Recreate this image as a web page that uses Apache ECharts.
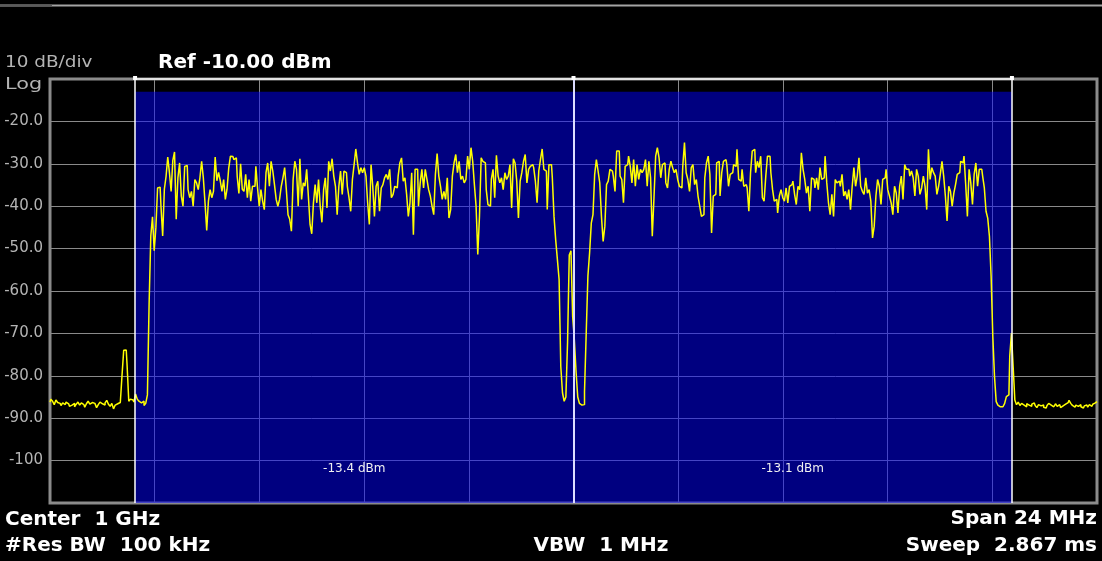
<!DOCTYPE html>
<html>
<head>
<meta charset="utf-8">
<script src="https://cdn.jsdelivr.net/npm/echarts@6/dist/echarts.min.js"></script>
<style>
  html, body { margin: 0; padding: 0; background: #000; }
  #chart { width: 1102px; height: 561px; }
</style>
</head>
<body>
<div id="chart"></div>
<script>
// trace levels in dBm, evenly spaced over the 24 MHz span (left to right)
const floorLeft = [
  -86.2, -85.5, -86.0, -86.8, -85.7, -86.3, -86.5, -87.0, -86.4, -86.8,
  -86.2, -86.6, -87.2, -86.9, -86.5, -87.3, -86.7, -86.2, -86.9, -86.4,
  -86.8, -87.4, -86.6, -86.0, -86.7, -86.3, -86.5, -86.9, -87.5, -86.8,
  -86.2, -86.6, -86.9, -86.4, -85.8, -86.7, -87.2, -86.5, -87.8, -86.9,
  -86.6, -86.3, -86.5, -80.0, -74.0, -73.9, -77.5, -86.0, -85.5, -85.7,
  -86.2, -84.3, -85.5, -86.0, -86.4, -86.0, -87.0
];
const edgeLeft = [-86.5, -84.5, -63.0, -47.0, -42.5, -50.5, -45.0, -35.7, -35.5, -40.0, -47.0];
const channelA = [
  -36.0, -33.0, -28.4, -32.1, -36.5, -29.2, -27.2, -43.1, -33.3, -29.8,
  -37.6, -40.0, -30.6, -30.4, -36.1, -38.0, -36.5, -40.0, -33.7, -34.5,
  -36.1, -33.3, -29.4, -33.3, -39.2, -45.7, -38.8, -36.1, -38.0, -36.5,
  -28.4, -34.0, -32.0, -34.0, -36.5, -33.7, -38.4, -36.0, -31.0, -28.2,
  -28.3, -29.0, -28.6, -33.0, -37.0, -30.0, -36.0, -36.5, -32.5, -38.0,
  -33.7, -38.8, -35.3, -35.3, -30.6, -35.7, -40.0, -36.1, -38.8, -40.8,
  -32.1, -29.8, -35.3, -29.4, -31.7, -34.9, -38.4, -40.0, -38.4, -35.3,
  -33.3, -30.9, -36.1, -42.0, -43.1, -45.9, -33.7, -29.4, -31.3, -40.0,
  -28.8, -38.4, -34.5, -35.3, -31.3, -37.6, -44.3, -46.5, -39.2, -34.9,
  -39.2, -33.7, -40.0, -43.8, -36.1, -33.3, -40.4, -29.4, -31.7, -28.8,
  -32.9, -35.3, -42.0, -35.3, -31.7, -37.2, -31.7, -32.1, -35.3, -38.0,
  -41.2, -33.7, -30.2, -26.5, -29.8, -32.5, -30.9, -32.1, -30.9, -32.9,
  -39.2, -44.3, -30.2, -35.3, -42.4, -35.3, -34.1, -41.2, -35.7, -34.9,
  -33.3, -32.5, -33.7, -31.3, -38.0, -37.2, -35.3, -35.7, -32.9, -29.8,
  -28.6, -34.1, -33.3, -37.2, -42.4, -39.2, -32.1, -46.7, -31.3, -31.3,
  -40.0, -34.5, -31.3, -35.7, -31.3, -33.7, -36.1, -37.6, -40.0, -42.0,
  -32.5, -27.6, -32.9, -35.3, -38.4, -36.5, -38.4, -33.3, -42.8, -40.8,
  -32.9, -29.8, -27.8, -32.1, -29.4, -33.7, -32.9, -34.5, -33.7, -28.2,
  -31.3, -26.2, -29.4, -34.9, -40.0, -51.4, -42.4, -28.6, -29.4, -29.8,
  -36.1, -39.6, -40.0, -33.7, -31.3, -38.0, -28.0, -32.9, -34.5, -33.3,
  -36.1, -32.1, -33.7, -32.9, -30.2, -40.4, -28.8, -29.8, -34.1, -42.8,
  -34.1, -32.1, -29.4, -27.8, -34.5, -31.3, -30.6, -30.2, -30.9, -34.1,
  -39.2, -31.7, -29.0, -26.5, -31.3, -31.7, -40.8, -30.2, -30.2, -33.3,
  -42.4
];
const gapCenter = [
  -48.0, -52.6, -57.3, -77.8, -84.0, -86.0, -85.0, -72.0, -51.5, -50.5,
  -66.0, -71.5, -79.0, -85.0, -86.5, -86.9, -86.8, -83.7, -70.0, -56.5,
  -51.0, -44.0, -42.0, -32.5
];
const channelB = [
  -29.0, -31.7, -34.5, -42.4, -48.3, -44.7, -34.9, -34.1, -31.3, -31.7,
  -32.9, -36.5, -27.0, -27.0, -32.9, -33.7, -39.2, -30.6, -30.2, -28.2,
  -30.6, -34.5, -29.0, -35.3, -30.2, -33.7, -31.3, -32.1, -31.3, -29.0,
  -35.3, -29.4, -33.3, -47.1, -38.0, -28.2, -26.2, -28.6, -33.3, -30.2,
  -29.8, -34.5, -35.7, -31.3, -29.4, -30.9, -32.1, -31.3, -33.7, -35.3,
  -35.7, -30.6, -25.0, -32.1, -33.7, -36.5, -30.9, -30.2, -34.9, -33.7,
  -37.6, -40.0, -42.4, -42.0, -33.3, -29.8, -28.2, -32.5, -46.3, -37.6,
  -37.2, -29.8, -29.4, -37.6, -32.1, -29.4, -29.0, -30.2, -35.3, -32.5,
  -32.1, -30.2, -30.6, -26.6, -33.7, -34.1, -31.3, -35.3, -34.9, -35.7,
  -41.2, -32.1, -27.0, -26.6, -32.1, -29.4, -30.9, -28.2, -38.0, -38.8,
  -32.9, -28.2, -28.2, -32.1, -36.1, -38.8, -38.4, -41.6, -37.6, -36.1,
  -38.0, -38.8, -35.7, -39.2, -35.3, -34.9, -34.1, -37.2, -39.6, -35.3,
  -36.1, -27.4, -31.3, -33.7, -36.9, -35.3, -41.2, -33.3, -33.7, -35.7,
  -33.3, -36.1, -30.9, -33.7, -33.3, -28.2, -34.5, -39.2, -42.0, -37.2,
  -42.4, -33.7, -34.5, -34.1, -35.3, -32.5, -37.6, -36.5, -38.4, -36.1,
  -40.8, -35.3, -30.9, -35.3, -32.9, -28.6, -35.3, -36.5, -37.2, -33.3,
  -36.9, -36.1, -38.8, -47.5, -44.7, -37.6, -33.7, -35.3, -39.6, -33.7,
  -33.3, -31.3, -36.1, -37.6, -39.2, -42.0, -35.3, -36.9, -41.6, -35.3,
  -32.9, -38.4, -30.2, -31.3, -31.3, -32.9, -31.7, -33.3, -37.6, -31.3,
  -32.9, -37.2, -35.7, -32.9, -35.3, -40.8, -26.6, -33.7, -30.9, -32.1,
  -32.9, -37.2, -35.3, -32.5, -29.4, -32.9, -37.6, -43.5, -35.3, -36.5,
  -40.0, -36.9, -34.9, -32.5, -32.1, -29.4, -29.8, -28.2, -34.9, -42.4,
  -31.3, -34.5, -39.6, -32.5, -29.8, -35.3, -31.3, -31.3, -32.9, -35.7
];
const edgeRight = [
  -41.2, -42.8, -47.1, -56.5, -70.7, -80.2, -86.1, -86.9, -87.3, -87.3,
  -86.9, -86.5, -84.9, -84.5, -75.4, -69.9, -77.8, -85.7
];
const floorRight = [
  -86.8, -86.2, -87.0, -86.5, -86.9, -87.3, -86.6, -86.9, -87.2, -86.7,
  -86.4, -87.0, -87.5, -86.8, -87.1, -86.9, -87.4, -87.6, -87.0, -86.5,
  -86.9, -87.3, -87.0, -86.6, -87.2, -86.8, -87.5, -87.1, -86.7, -86.9,
  -86.3, -85.8, -86.5, -87.0, -87.4, -86.9, -87.2, -86.8, -87.3, -87.6,
  -87.1, -86.9, -87.4, -86.8, -87.2, -86.7, -86.4, -86.1
];

// channel power measurement (offsets from the 1 GHz centre, MHz)
const channelEdges = [-10.05, 0, 10.05];
const channelPower = [-13.4, -13.1];
const channelTop = -13;
const spanMHz = 24;
const refLevel = -10;
const bottomLevel = -110;

const levels = [].concat(floorLeft, edgeLeft, channelA, gapCenter, channelB, edgeRight, floorRight);
const step = spanMHz / (levels.length - 1);
const trace = levels.map((v, i) => [-spanMHz / 2 + i * step, v]);

const FONT = "DejaVu Sans";
const gridLine = { show: true, lineStyle: { color: "#8a8a8a", width: 1 } };

const chart = echarts.init(document.getElementById("chart"), null, { renderer: "canvas" });

chart.setOption({
  backgroundColor: "#000000",
  animation: false,
  grid: {
    left: 50, right: 5, top: 79, bottom: 58,
    show: true,
    backgroundColor: "#000000",
    borderColor: "#8c8c8c",
    borderWidth: 3
  },
  xAxis: {
    type: "value",
    min: -spanMHz / 2,
    max: spanMHz / 2,
    interval: spanMHz / 10,
    axisLine: { show: false },
    axisTick: { show: false },
    axisLabel: { show: false },
    splitLine: gridLine
  },
  yAxis: {
    type: "value",
    min: bottomLevel,
    max: refLevel,
    interval: 10,
    axisLine: { show: false },
    axisTick: { show: false },
    axisLabel: {
      color: "#b4b4b4",
      fontFamily: FONT,
      fontSize: 15,
      margin: 7,
      showMinLabel: false,
      showMaxLabel: false,
      formatter: (v) => (v <= -100 ? v.toFixed(0) : v.toFixed(1))
    },
    splitLine: gridLine
  },
  graphic: [
    { type: "line", shape: { x1: 0, y1: 5.5, x2: 1102, y2: 5.5 }, style: { stroke: "#a4a4a4", lineWidth: 2 } },
    { type: "line", shape: { x1: 0, y1: 5.5, x2: 52, y2: 5.5 }, style: { stroke: "#5a5a5a", lineWidth: 2 } },
    { type: "text", x: 5, y: 63, scaleX: 1.15, style: { text: "10 dB/div", fill: "#b4b4b4", font: `16px ${FONT}`, textVerticalAlign: "middle" } },
    { type: "text", x: 5, y: 85, scaleX: 1.3, style: { text: "Log", fill: "#b4b4b4", font: `16px ${FONT}`, textVerticalAlign: "middle" } },
    { type: "text", x: 158, y: 63, style: { text: "Ref -10.00 dBm", fill: "#ffffff", font: `bold 20px ${FONT}`, textVerticalAlign: "middle" } },
    { type: "text", x: 5, y: 520, style: { text: "Center  1 GHz", fill: "#ffffff", font: `bold 20px ${FONT}`, textVerticalAlign: "middle" } },
    { type: "text", x: 5, y: 546, style: { text: "#Res BW  100 kHz", fill: "#ffffff", font: `bold 20px ${FONT}`, textVerticalAlign: "middle" } },
    { type: "text", x: 601, y: 546, style: { text: "VBW  1 MHz", fill: "#ffffff", font: `bold 20px ${FONT}`, textAlign: "center", textVerticalAlign: "middle" } },
    { type: "text", x: 1097, y: 519, style: { text: "Span 24 MHz", fill: "#ffffff", font: `bold 20px ${FONT}`, textAlign: "right", textVerticalAlign: "middle" } },
    { type: "text", x: 1097, y: 546, style: { text: "Sweep  2.867 ms", fill: "#ffffff", font: `bold 20px ${FONT}`, textAlign: "right", textVerticalAlign: "middle" } }
  ],
  series: [
    {
      name: "channels",
      type: "line",
      data: [],
      z: 1,
      silent: true,
      markArea: {
        silent: true,
        itemStyle: { color: "rgba(0, 0, 255, 0.5)" },
        label: {
          show: true,
          position: "insideBottom",
          distance: 28,
          color: "#f0f0f0",
          fontFamily: FONT,
          fontSize: 12,
          formatter: "{b}"
        },
        data: channelPower.map((p, k) => [
          { name: `${p.toFixed(1)} dBm`, xAxis: channelEdges[k], yAxis: channelTop },
          { xAxis: channelEdges[k + 1], yAxis: bottomLevel }
        ])
      },
      markLine: {
        silent: true,
        symbol: ["none", "none"],
        label: { show: false },
        lineStyle: { color: "#ffffff", width: 1.5, type: "solid" },
        data: [
          ...channelEdges.map((e, k) => ({
            xAxis: e,
            lineStyle: k === 1 ? { color: "#dcdcff", width: 2, type: "solid" } : undefined
          })),
          [{ coord: [channelEdges[0], refLevel] }, { coord: [channelEdges[2], refLevel] }]
        ]
      },
      markPoint: {
        silent: true,
        symbol: "rect",
        symbolSize: 4,
        symbolOffset: [0, -1],
        itemStyle: { color: "#ffffff" },
        label: { show: false },
        data: channelEdges.map((e) => ({ coord: [e, refLevel] }))
      }
    },
    {
      name: "trace",
      type: "line",
      data: trace,
      z: 3,
      step: "middle",
      showSymbol: false,
      silent: true,
      sampling: null,
      lineStyle: { color: "#ffff00", width: 1.5 }
    }
  ]
});
</script>
</body>
</html>
